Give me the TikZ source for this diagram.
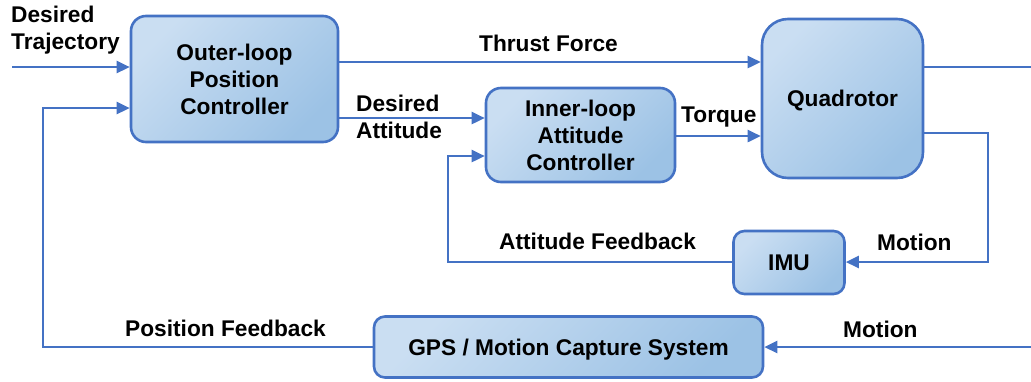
\documentclass[tikz,border=0pt]{standalone}
\usepackage{fontspec}
\setmainfont{Liberation Sans}
\usetikzlibrary{arrows.meta}

\definecolor{edgeblue}{HTML}{4472C4}
\definecolor{fillhi}{HTML}{CADEF2}
\definecolor{filllo}{HTML}{9CC2E5}

\tikzset{
  block/.style={draw=edgeblue, line width=2.6pt, top color=fillhi, bottom color=filllo,
    shading angle=45, align=center, inner sep=0pt, font=\lbl},
  oneline/.style={text height=16pt, text depth=0pt},
  flow/.style={draw=edgeblue, line width=2.6pt, -{Triangle[length=13pt,width=12pt]}},
  wire/.style={draw=edgeblue, line width=2.6pt},
  tag/.style={inner sep=0pt, font=\lbl},
}
\newcommand{\lbl}{\bfseries\fontsize{22.7}{27}\selectfont}

\begin{document}
\begin{tikzpicture}[x=1pt, y=-1pt]
\useasboundingbox (0,0) rectangle (1031,381);

% controller and plant blocks
\node[block, rounded corners=15pt, minimum width=207pt, minimum height=126pt]
  (outer) at (234.5,79) {Outer-loop\\Position\\Controller};
\node[block, rounded corners=15pt, minimum width=189pt, minimum height=94pt]
  (inner) at (580.5,135) {Inner-loop\\Attitude\\Controller};
\node[block, oneline, rounded corners=26pt, minimum width=161pt, minimum height=159pt]
  (quad) at (842.5,98.5) {Quadrotor};
\node[block, oneline, rounded corners=11pt, minimum width=111pt, minimum height=63pt]
  (imu) at (789,262.5) {IMU};
\node[block, oneline, rounded corners=11pt, minimum width=389pt, minimum height=61pt]
  (gps) at (568.5,347) {GPS / Motion Capture System};

% free ends at the picture border
\coordinate (refin) at (12,67);
\coordinate (stateout) at (1031,67);
\coordinate (motionin) at (1031,347);

% forward path
\draw[flow] (refin) -- (outer.west |- refin);
\draw[flow] (outer.east |- 0,62) -- (quad.west |- 0,62);
\draw[flow] (outer.east |- 0,118) -- (inner.west |- 0,118);
\draw[flow] (inner.east |- 0,136) -- (quad.west |- 0,136);
\draw[wire] (quad.east |- stateout) -- (stateout);

% inner (attitude) loop
\draw[flow] (quad.east |- 0,133) -| (988,262) -- (imu.east |- 0,262);
\draw[flow] (imu.west |- 0,262) -| (448,156) -- (inner.west |- 0,156);

% outer (position) loop
\draw[flow] (motionin) -- (gps.east |- motionin);
\draw[flow] (gps.west |- 0,347) -| (43,108) -- (outer.west |- 0,108);

% signal labels
\node[tag, align=left, anchor=north west] (lbltraj) at (11,5.5) {Desired\\Trajectory};
\node[tag, anchor=base] (lblthrust) at (548.5,51) {Thrust Force};
\node[tag, align=left, anchor=north west] (lblatt) at (356,94.5) {Desired\\Attitude};
\node[tag, anchor=base west] (lbltorque) at (681,122) {Torque};
\node[tag, anchor=base west] (lblmot1) at (877,250) {Motion};
\node[tag, anchor=base west] (lblattfb) at (499,249) {Attitude Feedback};
\node[tag, anchor=base west] (lblposfb) at (125,336) {Position Feedback};
\node[tag, anchor=base west] (lblmot2) at (843,337) {Motion};
\end{tikzpicture}
\end{document}
